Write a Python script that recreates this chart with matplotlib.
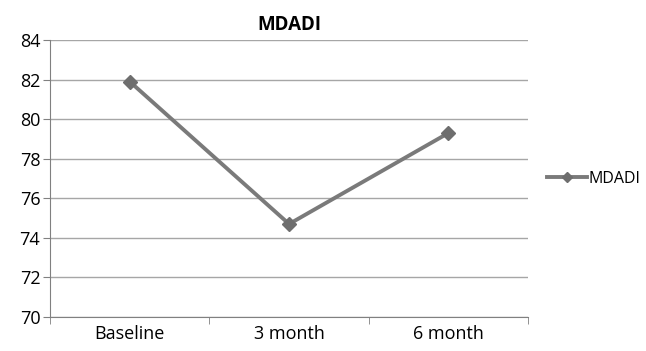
import matplotlib
matplotlib.use("Agg")
import matplotlib.pyplot as plt
import numpy as np

categories = ["Baseline", "3 month", "6 month"]
values = [81.9, 74.7, 79.3]
series_name = "MDADI"
title = "MDADI"
yticks = [70, 72, 74, 76, 78, 80, 82, 84]

plt.rcParams['font.family'] = ['Open Sans', 'DejaVu Sans']

fig = plt.figure(figsize=(6.46, 3.51), dpi=100)
ax = fig.add_axes([0.0774, 0.0969, 0.8176 - 0.0774, 0.886 - 0.0969])

x = np.arange(len(categories))
ax.plot(x, values, color="#7a7a7a", lw=2.8, marker="D", markersize=7,
        markerfacecolor="#6e6e6e", markeredgecolor="#6e6e6e", label=series_name, zorder=3)

ax.set_xlim(-0.5, len(categories) - 0.5)
ax.set_ylim(70, 84)
ax.set_yticks(yticks)
ax.set_yticklabels([str(v) for v in yticks], fontsize=13)
ax.yaxis.grid(True, color="#a6a6a6", lw=1)
ax.set_axisbelow(True)

ax.set_xticks(x)
ax.set_xticklabels(categories, fontsize=13)
ax.set_xticks(np.arange(-0.5, len(categories), 1), minor=True)
ax.tick_params(axis='x', which='major', length=0, pad=6)
ax.tick_params(axis='x', which='minor', length=5, color="#808080")
ax.tick_params(axis='y', length=5, color="#808080", pad=2)

for s in ["top", "right"]:
    ax.spines[s].set_visible(False)
for s in ["left", "bottom"]:
    ax.spines[s].set_color("#808080")

ax.set_title(title, fontsize=13.5, fontweight="bold", pad=7)

ax.legend(loc="center left", bbox_to_anchor=(1.01, 0.5), frameon=False,
          fontsize=11.5, handlelength=2.5, handletextpad=0.1, markerscale=0.7)

fig.savefig("out.png", dpi=100)
